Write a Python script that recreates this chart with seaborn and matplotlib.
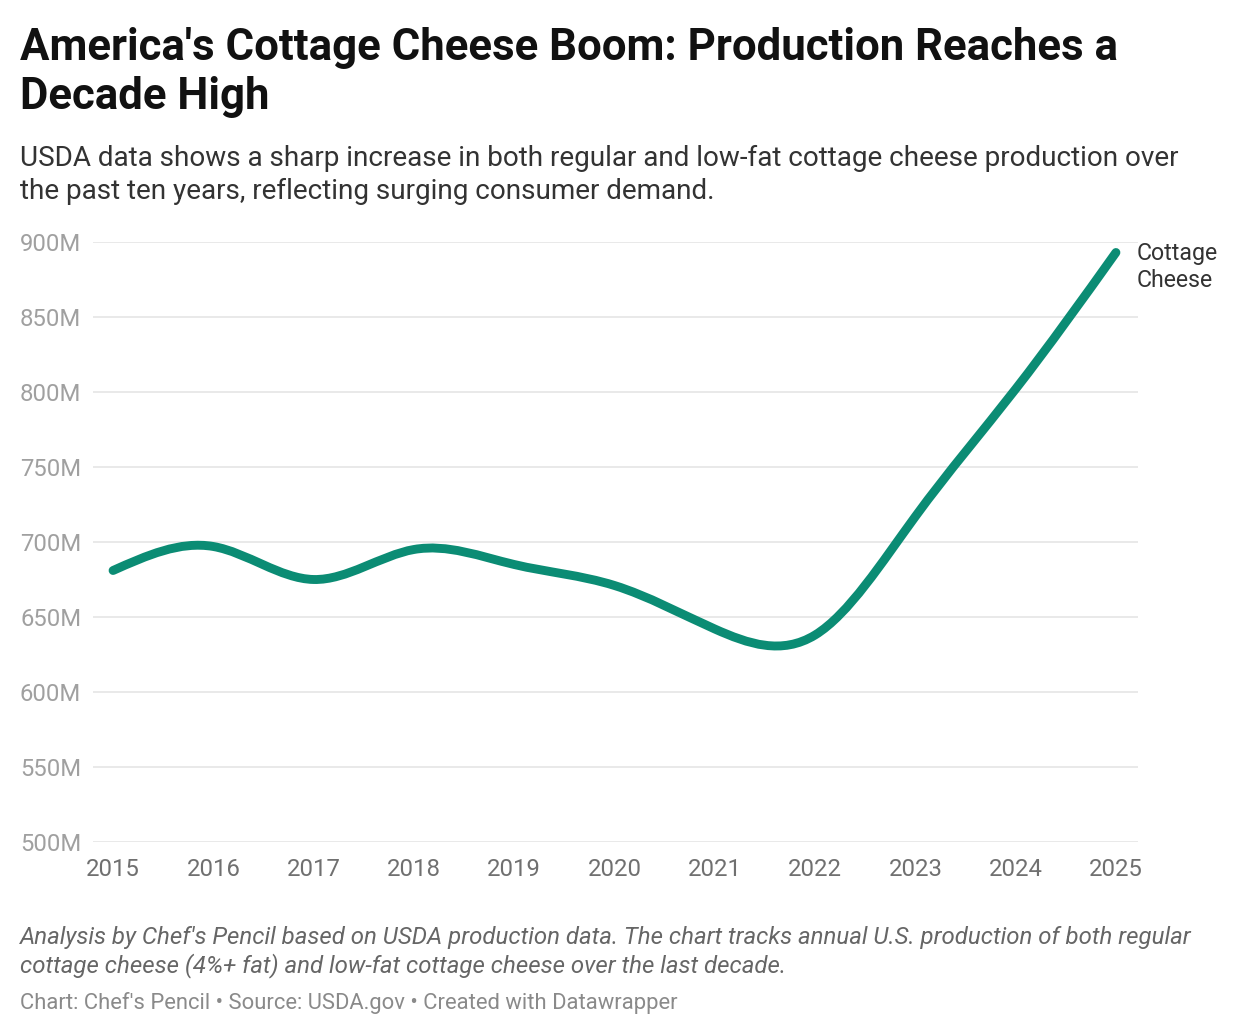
import matplotlib.pyplot as plt
import matplotlib
import numpy as np
import pandas as pd
import seaborn as sns
from matplotlib.path import Path
from matplotlib.patches import PathPatch

# production in millions
years = [2015, 2016, 2017, 2018, 2019, 2020, 2021, 2022, 2023, 2024, 2025]
production_m = [681, 697, 675, 695, 685, 671, 642, 638, 717, 802, 893]
y_ticks = [500, 550, 600, 650, 700, 750, 800, 850, 900]
series_name = ["Cottage", "Cheese"]

title_lines = ["America's Cottage Cheese Boom: Production Reaches a", "Decade High"]
subtitle_lines = ["USDA data shows a sharp increase in both regular and low-fat cottage cheese production over",
                  "the past ten years, reflecting surging consumer demand."]
note_lines = ["Analysis by Chef's Pencil based on USDA production data. The chart tracks annual U.S. production of both regular",
              "cottage cheese (4%+ fat) and low-fat cottage cheese over the last decade."]
footer = "Chart: Chef's Pencil \u2022 Source: USDA.gov \u2022 Created with Datawrapper"

LINE_COLOR = "#0b8c74"


def natural_controls(v):
    # bezier control points of a natural cubic spline (same as d3.curveNatural)
    v = np.asarray(v, dtype=float)
    n = len(v) - 1
    a = np.zeros(n); b = np.zeros(n); r = np.zeros(n)
    a[0], b[0], r[0] = 0, 2, v[0] + 2 * v[1]
    for i in range(1, n - 1):
        a[i], b[i], r[i] = 1, 4, 4 * v[i] + 2 * v[i + 1]
    a[n - 1], b[n - 1], r[n - 1] = 2, 7, 8 * v[n - 1] + v[n]
    for i in range(1, n):
        m = a[i] / b[i - 1]
        b[i] -= m
        r[i] -= m * r[i - 1]
    a[n - 1] = r[n - 1] / b[n - 1]
    for i in range(n - 2, -1, -1):
        a[i] = (r[i] - a[i + 1]) / b[i]
    b[n - 1] = (v[n] + a[n - 1]) / 2
    for i in range(n - 1):
        b[i] = 2 * v[i + 1] - a[i + 1]
    return a, b


def curve_path(x, y):
    ax_, bx_ = natural_controls(x)
    ay_, by_ = natural_controls(y)
    verts = [(x[0], y[0])]
    codes = [Path.MOVETO]
    for i in range(len(x) - 1):
        verts += [(ax_[i], ay_[i]), (bx_[i], by_[i]), (x[i + 1], y[i + 1])]
        codes += [Path.CURVE4] * 3
    return Path(verts, codes)


def plot_cottage_cheese():
    df = pd.DataFrame({"year": years, "production": production_m})

    fig = plt.figure(figsize=(12.4, 10.34), dpi=100)
    ax = fig.add_axes([93 / 1240, 1 - 842 / 1034, (1138 - 93) / 1240, 600 / 1034])

    patch = PathPatch(curve_path(df["year"].values, df["production"].values), fill=False,
                      edgecolor=LINE_COLOR, lw=6.4, capstyle="round", joinstyle="round", clip_on=False, zorder=3)
    ax.add_patch(patch)

    ax.set_xlim(2014.80, 2025.22)
    ax.set_ylim(500, 900)
    ax.set_xticks(years)
    ax.set_xticklabels([str(y) for y in years])
    ax.set_yticks(y_ticks)
    ax.set_yticklabels([f"{t}M" for t in y_ticks])
    ax.tick_params(axis="x", length=0, pad=11.5, labelsize=17.2, labelcolor="#707070")
    ax.tick_params(axis="y", length=0, pad=8.5, labelsize=17.2, labelcolor="#a0a0a0")
    ax.yaxis.grid(True, color="#e3e3e3", lw=1.1)
    ax.xaxis.grid(False)
    ax.set_axisbelow(True)
    ax.set_xlabel("")
    ax.set_ylabel("")
    sns.despine(ax=ax, left=True, bottom=True)

    # line label at the last point
    for k, txt in enumerate(series_name):
        ax.annotate(txt, xy=(years[-1], production_m[-1]), xytext=(15, -5.4 - k * 19.2),
                    textcoords="offset points", fontsize=16.7, color="#333333", va="baseline", ha="left",
                    annotation_clip=False)

    def px_text(x, y, s, **kw):
        fig.text(x / 1240, 1 - y / 1034, s, va="baseline", ha="left", **kw)

    px_text(20, 60, title_lines[0], fontsize=31.5, fontweight="bold", color="#111111")
    px_text(20, 109.5, title_lines[1], fontsize=31.5, fontweight="bold", color="#111111")
    px_text(20, 166, subtitle_lines[0], fontsize=20.1, color="#333333")
    px_text(20, 199, subtitle_lines[1], fontsize=20.1, color="#333333")
    px_text(20, 944, note_lines[0], fontsize=17.3, style="italic", color="#666666")
    px_text(20, 972, note_lines[1], fontsize=17.3, style="italic", color="#666666")
    px_text(20, 1009, footer, fontsize=15.8, color="#8a8a8a")

    plt.savefig("out.png", dpi=100)


if __name__ == '__main__':
    sns.set_style("white")
    matplotlib.rcParams['font.family'] = ["Roboto", "DejaVu Sans"]
    plot_cottage_cheese()
